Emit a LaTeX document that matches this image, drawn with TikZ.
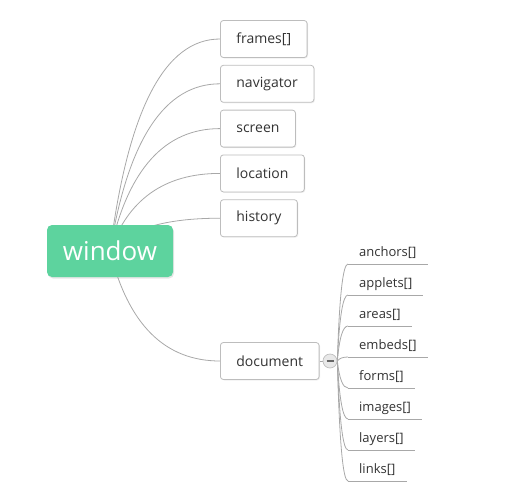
\documentclass[tikz,border=0pt]{standalone}
\usepackage{fontspec}
\setmainfont{Open Sans}
\usetikzlibrary{positioning, calc, shadows, backgrounds}

\definecolor{mintgreen}{HTML}{5DD39E}
\definecolor{linkgray}{HTML}{A8A8A8}
\definecolor{boxgray}{HTML}{BDBDBD}
\definecolor{inkgray}{HTML}{333333}

\tikzset{
  root/.style={fill=mintgreen, rounded corners=5pt, minimum width=126pt, minimum height=52pt,
    text=white, font=\fontsize{26}{30}\selectfont,
    drop shadow={shadow xshift=1pt, shadow yshift=-1.5pt, opacity=.2}},
  topic/.style={draw=boxgray, line width=.8pt, fill=white, rounded corners=3pt, minimum height=37pt,
    inner xsep=16pt, anchor=west, text=inkgray, font=\fontsize{14}{16}\selectfont,
    drop shadow={shadow xshift=1pt, shadow yshift=-1pt, opacity=.12}},
  leaf/.style={anchor=south west, inner xsep=11pt, inner ysep=0pt, text depth=7pt,
    text=inkgray, font=\fontsize{13}{15}\selectfont},
  fold/.style={circle, draw=gray!50, line width=.7pt, fill=gray!18, minimum size=14pt, inner sep=0pt},
  link/.style={draw=linkgray, line width=.8pt},
}

\begin{document}
\begin{tikzpicture}[x=1pt, y=-1pt, node distance=7pt]
    \useasboundingbox (0,0) rectangle (525,501);

    \node[root] (window) at (110,251) {window};

    \node[topic] (frames) at (220,39) {frames[]};
    \node[topic, below right=7pt and 0pt of frames.south west] (navigator) {navigator};
    \node[topic, below right=7pt and 0pt of navigator.south west] (screen) {screen};
    \node[topic, below right=7pt and 0pt of screen.south west] (location) {location};
    \node[topic, below right=7pt and 0pt of location.south west] (history) {history};
    \node[topic] (document) at (220,361) {document};

    \node[fold] (fold) at (330,361) {};
    \draw[black!60, line width=1.4pt] ([xshift=-3.5pt]fold.center) -- ([xshift=3.5pt]fold.center);

    % children of document
    \foreach \n [count=\i] in {anchors,applets,areas,embeds,forms,images,layers,links}{
        \node[leaf] (\n) at (348,{264+31*(\i-1)}) {\n[]};
        \draw[link] (\n.south west) -- (\n.south east);
    }

    \begin{scope}[on background layer]
        \foreach \t in {frames,navigator,screen,location,history,document}{
            \coordinate (k) at ($(window.center |- \t.west)+(27,0)$);
            \draw[link] (window.center) .. controls ($(window.center)!2/3!(k)$) and ($(\t.west)!2/3!(k)$) .. (\t.west);
        }
        \draw[link] (document.east) -- (fold.west);
        \foreach \n in {anchors,applets,areas,embeds,forms,images,layers,links}{
            \coordinate (k) at ($(fold.east |- \n.south west)+(3,0)$);
            \draw[link] (fold.east) .. controls ($(fold.east)!2/3!(k)$) and ($(\n.south west)!2/3!(k)$) .. (\n.south west);
        }
    \end{scope}
\end{tikzpicture}
\end{document}
